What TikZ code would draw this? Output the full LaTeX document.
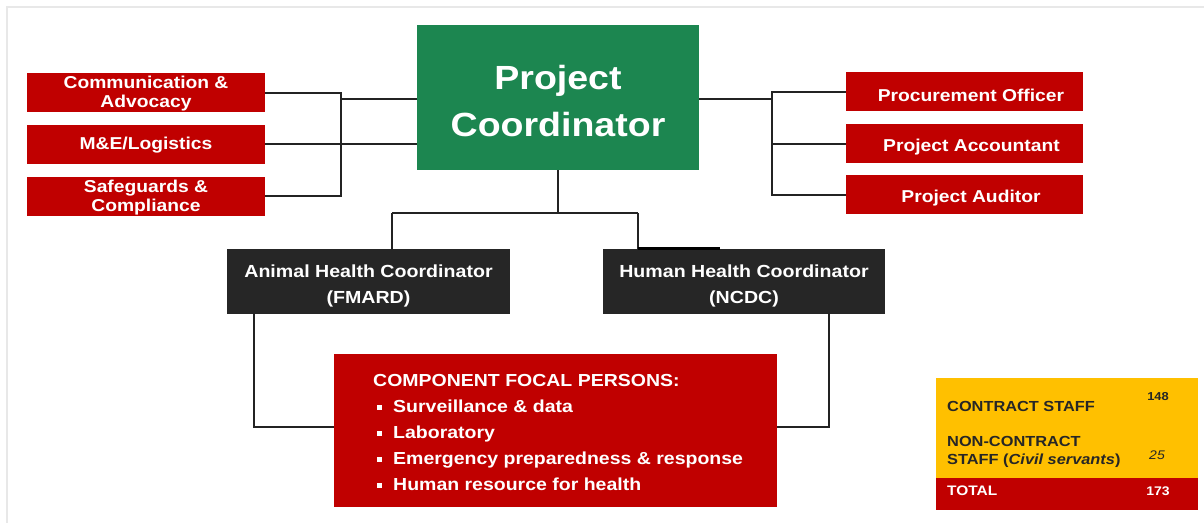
\documentclass[tikz,border=0pt]{standalone}
\usepackage{fontspec}
\setmainfont{Liberation Sans}[FakeStretch=1.12]
\definecolor{pcgreen}{RGB}{28,134,80}
\definecolor{boxred}{RGB}{192,0,0}
\definecolor{boxblack}{RGB}{38,38,38}
\definecolor{tblyellow}{RGB}{255,192,0}
\definecolor{linegray}{RGB}{35,35,35}
\tikzset{
  redbox/.style={fill=boxred, draw=none, minimum width=238pt, minimum height=39pt, inner sep=0pt},
  redtext/.style={inner sep=0pt, text=white, align=center, font=\bfseries\fontsize{17.2}{19}\selectfont},
  blackbox/.style={fill=boxblack, draw=none, minimum width=283pt, minimum height=65pt, inner sep=0pt},
  blacktext/.style={inner sep=0pt, text=white, align=center, font=\bfseries\fontsize{17.5}{26}\selectfont},
  conn/.style={draw=linegray, line width=2pt},
  tbltext/.style={inner sep=0pt, text=boxblack, font=\bfseries\fontsize{14.6}{18}\selectfont, align=left},
  tblnum/.style={inner sep=0pt, font=\bfseries\fontsize{11.5}{13}\selectfont},
}
\newcommand{\sqbul}{\makebox[20pt][l]{\hspace{4pt}\raisebox{2.5pt}{\rule{4.5pt}{4.5pt}}}}
\begin{document}
\begin{tikzpicture}[x=1pt, y=-1pt]
\useasboundingbox (0,0) rectangle (1204,523);
\fill[white] (0,0) rectangle (1204,523);
\draw[gray!18, line width=1.2pt] (7,523) -- (7,7) -- (1204,7);

% project coordinator
\node[fill=pcgreen, minimum width=282pt, minimum height=145pt, inner sep=0pt] (pc) at (558,97.5) {};
\node[inner sep=0pt, text=white, align=center, font=\bfseries\fontsize{33.5}{47}\selectfont]
  (pct) at ([yshift=-4pt]pc.center) {Project\\Coordinator};

% left boxes
\node[redbox] (ca) at (146,92.5) {};
\node[redtext] (cat) at ([yshift=-1.5pt]ca.center) {Communication \&\\Advocacy};
\node[redbox] (me) at (146,144) {};
\node[redtext] (met) at ([yshift=-1.5pt]me.center) {M\&E/Logistics};
\node[redbox] (sg) at (146,196) {};
\node[redtext] (sgt) at ([yshift=-1.5pt]sg.center) {Safeguards \&\\Compliance};

% right boxes
\node[redbox, minimum width=237pt] (po) at (964.5,91.5) {};
\node[redtext] (pot) at ([xshift=6.5pt,yshift=-3.5pt]po.center) {Procurement Officer};
\node[redbox, minimum width=237pt] (pa) at (964.5,143.5) {};
\node[redtext] (pat) at ([xshift=7pt,yshift=-3.5pt]pa.center) {Project Accountant};
\node[redbox, minimum width=237pt] (au) at (964.5,194.5) {};
\node[redtext] (aut) at ([xshift=6.5pt,yshift=-3.5pt]au.center) {Project Auditor};

% health coordinators
\node[blackbox] (ah) at (368.5,281.5) {};
\node[blacktext] (aht) at ([yshift=-4.5pt]ah.center) {Animal Health Coordinator\\(FMARD)};
\node[blackbox, minimum width=282pt] (hh) at (744,281.5) {};
\node[blacktext] (hht) at ([yshift=-4.5pt]hh.center) {Human Health Coordinator\\(NCDC)};

% component focal persons
\node[fill=boxred, minimum width=443pt, minimum height=153pt, inner sep=0pt, anchor=north west] (cf) at (334,354) {};
\node[anchor=north west, inner sep=0pt, text=white, align=left,
      font=\bfseries\fontsize{17.4}{26}\selectfont] (cft) at (373,374)
  {COMPONENT FOCAL PERSONS:\\
   \sqbul Surveillance \& data\\
   \sqbul Laboratory\\
   \sqbul Emergency preparedness \& response\\
   \sqbul Human resource for health};

% staff table
\node[fill=tblyellow, minimum width=262pt, minimum height=100pt, inner sep=0pt, anchor=north west] (tbl) at (936,378) {};
\node[fill=boxred, minimum width=262pt, minimum height=32pt, inner sep=0pt, anchor=north west] (tot) at (936,478) {};
\node[tbltext, anchor=west] (cs) at (947,406) {CONTRACT STAFF};
\node[tblnum, text=boxblack] (n148) at (1158,397) {148};
\node[tbltext, anchor=west] (ncs) at (947,452) {NON-CONTRACT\\STAFF (\textit{Civil servants})};
\node[tblnum, text=boxblack, font=\itshape\fontsize{12.5}{14}\selectfont] (n25) at (1157,455) {25};
\node[tbltext, text=white, anchor=west, font=\bfseries\fontsize{13.8}{16}\selectfont] (totl) at (947,491) {TOTAL};
\node[tblnum, text=white, font=\bfseries\fontsize{12.5}{14}\selectfont] (n173) at (1158,491) {173};

% left connectors
\coordinate (lt) at (341,92.5);
\coordinate (lj) at (341,99);
\coordinate (pj) at (417,99);
\draw[conn] (ca.east) -- (lt) -- (lt |- sg.east) -- (sg.east);
\draw[conn] (me.east) -- (me.east -| pc.west);
\draw[conn] (lj) -- (pj);

% right connectors
\coordinate (rt) at (772,91.5);
\coordinate (rj) at (772,99);
\coordinate (pr) at (699,99);
\draw[conn] (pr) -- (rj);
\draw[conn] (po.west) -- (rt) -- (rt |- au.west) -- (au.west);
\draw[conn] (pa.west) -- (pa.west -| rt);

% down connectors
\coordinate (hb) at (558,213);
\coordinate (hl) at (392,213);
\coordinate (hr2) at (638,213);
\coordinate (ahn) at (392,250);
\coordinate (hhn) at (638,250);
\draw[conn] (pc.south) -- (hb);
\draw[conn] (hl) -- (hr2);
\draw[conn] (hl) -- (ahn);
\draw[conn] (hr2) -- (hhn);
\coordinate (bs1) at (638,248.5);
\coordinate (bs2) at (720,248.5);
\draw[draw=black, line width=2.5pt] (bs1) -- (bs2);

% coordinators to component box
\coordinate (as) at (254,313);
\coordinate (al) at (254,427);
\coordinate (hs) at (829,313);
\coordinate (hr) at (829,427);
\draw[conn] (as) -- (al) -- (al -| cf.west);
\draw[conn] (hs) -- (hr) -- (hr -| cf.east);
\end{tikzpicture}
\end{document}
